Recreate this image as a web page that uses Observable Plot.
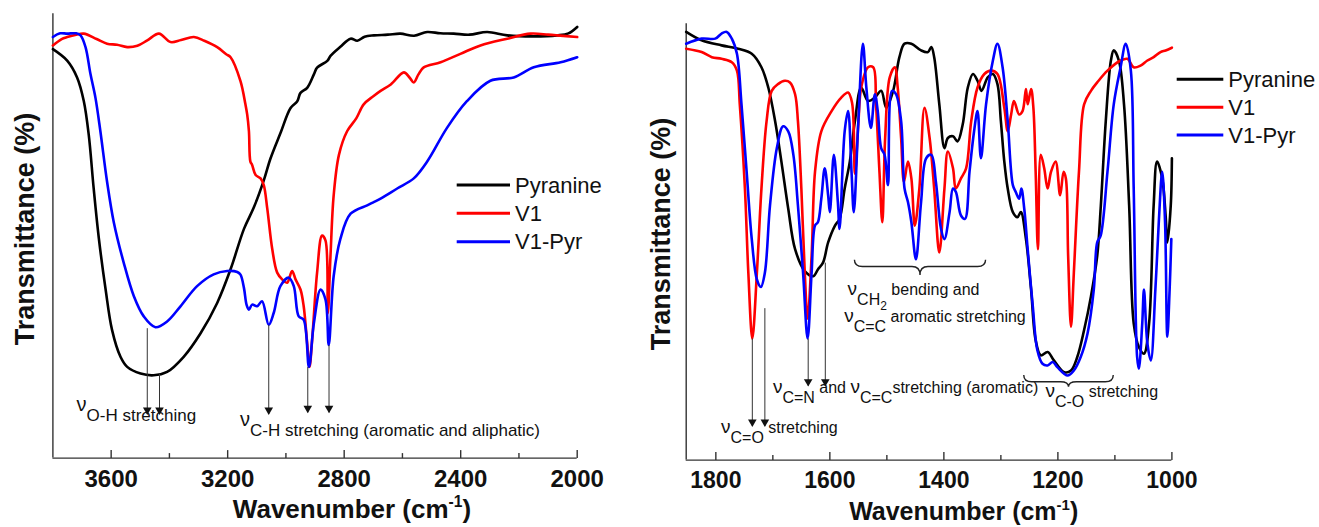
<!DOCTYPE html>
<html>
<head>
<meta charset="utf-8">
<script src="https://cdn.jsdelivr.net/npm/d3@7"></script>
<script src="https://cdn.jsdelivr.net/npm/@observablehq/plot@0.6"></script>
<style>
html,body{margin:0;padding:0;background:#fff;}
#wrap{position:relative;width:1319px;height:527px;overflow:hidden;}
#left,#right{position:absolute;top:0;}
#left{left:0;}
#right{left:640px;}
svg text{white-space:pre;}
</style>
</head>
<body>
<div id="wrap"><div id="left"></div><div id="right"></div></div>
<script>
// ---------- data ----------
const seriesNames = ["Pyranine", "V1", "V1-Pyr"];
const seriesColors = ["#000000", "#ff0000", "#0000ff"];
const xTitle = "Wavenumber (cm";
const xTitleSup = "-1";
const yTitle = "Transmittance (%)";

const leftTicks = [3600, 3200, 2800, 2400, 2000];
const leftMinorTicks = [3400, 3000, 2600, 2200];
const rightTicks = [1800, 1600, 1400, 1200, 1000];
const rightMinorTicks = [1700, 1500, 1300, 1100];

// [wavenumber, transmittance (a.u.)]
const leftPyranine = [[3800,1215],[3751,1181],[3717,1131],[3694,1061],[3677,961],[3660,801],[3642,651],[3619,501],[3597,381],[3568,301],[3545,271],[3499,251],[3454,246],[3408,256],[3351,301],[3293,371],[3236,461],[3190,561],[3144,681],[3110,745],[3076,825],[3053,890],[3019,965],[2984,1040],[2961,1060],[2950,1085],[2927,1100],[2904,1140],[2893,1160],[2858,1180],[2847,1195],[2813,1222],[2778,1246],[2755,1240],[2730,1252],[2698,1256],[2650,1258],[2607,1261],[2560,1255],[2515,1266],[2470,1262],[2424,1261],[2370,1258],[2309,1266],[2240,1256],[2150,1253],[2069,1256],[2030,1262],[2000,1281]];
const leftV1 = [[3800,1226],[3770,1245],[3751,1251],[3720,1258],[3694,1261],[3650,1245],[3614,1231],[3580,1228],[3545,1221],[3510,1225],[3476,1241],[3436,1261],[3396,1236],[3360,1242],[3316,1251],[3280,1240],[3236,1221],[3205,1200],[3190,1191],[3156,1120],[3139,1051],[3133,1021],[3127,971],[3122,881],[3116,871],[3104,841],[3087,831],[3076,811],[3064,741],[3047,621],[3030,551],[3013,531],[2996,521],[2979,556],[2967,531],[2950,501],[2939,451],[2927,341],[2919,271],[2910,351],[2893,551],[2876,661],[2864,646],[2856,430],[2847,601],[2836,781],[2818,901],[2790,971],[2758,1010],[2733,1051],[2700,1075],[2675,1091],[2640,1110],[2595,1146],[2575,1130],[2561,1116],[2545,1140],[2527,1161],[2469,1176],[2401,1201],[2332,1226],[2240,1246],[2160,1261],[2100,1258],[2069,1256],[2000,1251]];
const leftV1Pyr = [[3800,1251],[3775,1262],[3751,1261],[3720,1262],[3705,1256],[3688,1221],[3671,1141],[3654,1071],[3637,971],[3614,821],[3591,701],[3557,581],[3522,481],[3488,421],[3448,389],[3408,406],[3362,451],[3305,511],[3248,546],[3202,556],[3167,553],[3156,545],[3144,505],[3135,455],[3127,441],[3116,456],[3099,451],[3082,466],[3059,396],[3042,431],[3019,511],[2990,536],[2973,511],[2956,421],[2939,411],[2921,271],[2904,401],[2881,501],[2864,471],[2853,336],[2836,541],[2813,651],[2778,726],[2721,751],[2700,760],[2675,771],[2618,801],[2561,831],[2515,881],[2447,981],[2378,1061],[2298,1121],[2218,1131],[2149,1161],[2057,1176],[2000,1191]];

const rightPyranine = [[1852,1271],[1825,1246],[1790,1231],[1761,1221],[1737,1206],[1720,1166],[1708,1106],[1696,1006],[1685,886],[1673,746],[1661,626],[1644,561],[1629,546],[1621,566],[1612,586],[1603,646],[1591,696],[1583,716],[1574,806],[1565,886],[1556,1006],[1545,1106],[1533,1066],[1521,1076],[1510,1096],[1501,1046],[1489,1096],[1478,1196],[1469,1236],[1457,1236],[1440,1216],[1428,1211],[1422,1226],[1417,1196],[1408,1056],[1399,926],[1393,956],[1384,961],[1376,946],[1367,996],[1358,1106],[1349,1146],[1341,1126],[1334,1096],[1323,1136],[1314,1146],[1306,1116],[1300,1006],[1294,886],[1288,806],[1279,736],[1271,721],[1265,736],[1256,656],[1247,506],[1239,356],[1230,311],[1218,321],[1207,296],[1189,261],[1177,266],[1166,306],[1154,386],[1142,486],[1131,606],[1125,746],[1116,1006],[1107,1186],[1102,1216],[1093,1186],[1084,1056],[1075,756],[1067,406],[1058,336],[1049,316],[1040,406],[1032,756],[1026,886],[1017,836],[1011,726],[1008,646],[1002,756],[1000,896]];
const rightV1 = [[1852,1221],[1825,1211],[1807,1196],[1790,1191],[1772,1181],[1763,1156],[1758,1056],[1749,806],[1743,556],[1736,361],[1728,556],[1720,806],[1711,1006],[1702,1096],[1691,1116],[1679,1126],[1670,1121],[1661,1086],[1656,1006],[1650,806],[1644,556],[1639,420],[1632,606],[1626,856],[1615,976],[1597,1036],[1580,1076],[1568,1091],[1561,1060],[1556,850],[1550,1000],[1545,1106],[1533,1166],[1524,1166],[1519,1056],[1513,856],[1508,706],[1503,956],[1495,1136],[1486,1166],[1481,1106],[1475,956],[1470,826],[1463,886],[1457,836],[1451,696],[1443,806],[1434,1046],[1425,956],[1417,806],[1408,616],[1399,806],[1393,916],[1384,866],[1379,806],[1370,836],[1361,866],[1352,1006],[1341,1106],[1329,1146],[1317,1156],[1306,1146],[1294,1046],[1288,976],[1282,1026],[1277,1066],[1268,1026],[1262,1036],[1256,1101],[1253,1056],[1247,1101],[1243,1046],[1239,856],[1235,626],[1230,906],[1224,866],[1218,806],[1212,856],[1204,886],[1196,786],[1190,856],[1186,836],[1182,606],[1177,396],[1172,556],[1163,856],[1154,1056],[1142,1096],[1131,1121],[1113,1156],[1090,1186],[1078,1191],[1067,1166],[1055,1171],[1043,1186],[1032,1196],[1020,1211],[1011,1216],[1000,1224]];
const rightV1Pyr = [[1852,1236],[1825,1251],[1801,1251],[1790,1266],[1781,1271],[1772,1251],[1763,1206],[1755,1056],[1746,856],[1737,656],[1728,536],[1721,514],[1714,556],[1705,756],[1693,926],[1682,991],[1673,976],[1664,906],[1656,756],[1647,556],[1639,361],[1632,556],[1626,696],[1621,706],[1615,776],[1609,866],[1603,786],[1600,736],[1593,906],[1586,766],[1583,686],[1574,976],[1568,1036],[1562,856],[1558,736],[1550,1006],[1542,1236],[1536,1106],[1528,986],[1521,1086],[1516,1036],[1510,926],[1504,906],[1498,816],[1491,1096],[1484,1086],[1475,1006],[1469,806],[1463,766],[1457,706],[1449,596],[1440,766],[1431,896],[1422,906],[1414,826],[1405,686],[1399,656],[1390,736],[1384,806],[1379,796],[1370,726],[1363,716],[1355,856],[1347,976],[1341,1036],[1335,896],[1326,1056],[1314,1186],[1306,1236],[1297,1166],[1288,1006],[1279,816],[1274,796],[1268,776],[1264,806],[1259,746],[1253,626],[1244,456],[1236,326],[1227,286],[1218,281],[1209,291],[1201,276],[1183,251],[1172,266],[1160,306],[1148,376],[1137,506],[1131,646],[1125,666],[1113,856],[1102,1056],[1090,1166],[1081,1236],[1072,1156],[1067,806],[1061,306],[1058,271],[1052,406],[1049,506],[1043,346],[1037,296],[1029,506],[1023,706],[1017,856],[1012,706],[1008,366],[1004,506],[1001,656]];

// peak-assignment arrows (wavenumber, from / to transmittance)
const leftArrows = [{wn:3476,from:386,to:131},{wn:3434,from:251,to:131},{wn:3059,from:396,to:131},{wn:2925,from:271,to:136},{wn:2852,from:336,to:136}];
const rightArrows = [{wn:1736,from:361,to:101},{wn:1714,from:451,to:101},{wn:1638,from:361,to:221},{wn:1608,from:586,to:221}];

// band labels: parts are [text, level]
const leftNotes = [
  {wn:3717, h:108, parts:[["ν","nu"],["O-H stretching","low"]]},
  {wn:3156, h:63, parts:[["ν","nu"],["C-H stretching (aromatic and aliphatic)","low"]]}
];
const rightNotes = [
  {wn:1790, h:50, parts:[["ν","nu"],["C=O","low"],[" stretching","up"]]},
  {wn:1699, h:168, parts:[["ν","nu"],["C=N","low"],[" and ","up"],["ν","nu"],["C=C","low"],["stretching (aromatic)","up"]]},
  {wn:1568, h:459, parts:[["ν","nu"],["CH","low"],["2","sub"],[" bending and","up"]]},
  {wn:1574, h:380, parts:[["ν","nu"],["C=C","low"],[" aromatic stretching","up"]]},
  {wn:1221, h:157, parts:[["ν","nu"],["C-O","low"],[" stretching","up"]]}
];
const rightBraces = [{wn1:1556, wn2:1326, hEnd:593, hLine:573, hTip:548},{wn1:1259, wn2:1102, hEnd:251, hLine:231, hTip:216}];

// ---------- drawing ----------
const FONT = '"Liberation Sans", Arial, Helvetica, sans-serif';

function panel(o) {
  const plotH = 527 - o.mt - o.mb;
  const unitsPerPx = o.yMax / plotH;
  const tickLink = (ticks, len) => Plot.link(ticks, {x1:d => d, x2:d => d, y1:0, y2:len * unitsPerPx, stroke:"#333", strokeWidth:1.4});
  const marks = [
    Plot.ruleY([0], {stroke:"#333", strokeWidth:1.4}),
    Plot.ruleX([o.xDomain[0]], {y1:0, y2:o.yMax, stroke:"#333", strokeWidth:1.4}),
    tickLink(o.ticks, 8),
    tickLink(o.minor, 5),
    Plot.axisX(o.ticks, {tickSize:0, tickPadding:o.tickPad, tickFormat:d => String(d), label:null, fontSize:o.tickFont, fontWeight:"bold", fill:"#111"}),
    ...o.series.map((s, i) => Plot.line(s, {x:d => d[0], y:d => d[1], stroke:seriesColors[i], strokeWidth:2.6, curve:"catmull-rom"})),
    Plot.link(o.arrows, {x1:"wn", x2:"wn", y1:"from", y2:"to", stroke:"#333", strokeWidth:1}),
    Plot.dot(o.arrows, {x:"wn", y:"to", symbol:"triangle", rotate:180, r:3.2, fill:"#111", stroke:"none", dy:-4})
  ];
  const svg = Plot.plot({
    width:o.width, height:527,
    marginLeft:o.ml, marginRight:o.mr, marginTop:o.mt, marginBottom:o.mb,
    x:{domain:o.xDomain},
    y:{domain:[0, o.yMax], axis:null},
    style:{fontFamily:FONT, background:"white", overflow:"visible"},
    marks
  });
  const sx = svg.scale("x"), sy = svg.scale("y");
  const g = d3.select(svg).append("g").attr("font-family", FONT).attr("text-anchor", "start");

  // band labels
  for (const n of o.notes) {
    const t = g.append("text").attr("x", sx.apply(n.wn)).attr("y", sy.apply(n.h))
      .attr("text-anchor", "start").attr("font-size", o.noteFont).attr("fill", "#111");
    let cur = 0;
    for (const [str, lvl] of n.parts) {
      const target = (lvl === "nu" || lvl === "up") ? -10 : (lvl === "sub" ? 5 : 0);
      const ts = t.append("tspan").attr("dy", target - cur).text(str);
      if (lvl === "nu") ts.attr("font-size", o.noteFont + 3);
      if (lvl === "sub") ts.attr("font-size", o.noteFont - 4);
      cur = target;
    }
  }
  // braces
  for (const b of (o.braces || [])) {
    const x1 = sx.apply(b.wn1), x2 = sx.apply(b.wn2), xc = (x1 + x2) / 2;
    const ye = sy.apply(b.hEnd), yl = sy.apply(b.hLine), yt = sy.apply(b.hTip);
    const r = 8;
    const p = `M${x1},${ye} Q${x1},${yl} ${x1 + r},${yl} L${xc - r},${yl} Q${xc},${yl} ${xc},${yt} Q${xc},${yl} ${xc + r},${yl} L${x2 - r},${yl} Q${x2},${yl} ${x2},${ye}`;
    g.append("path").attr("d", p).attr("fill", "none").attr("stroke", "#222").attr("stroke-width", 1.4);
  }
  // legend
  o.legendY.forEach((y, i) => {
    g.append("line").attr("x1", o.legendX[0]).attr("x2", o.legendX[1]).attr("y1", y).attr("y2", y)
      .attr("stroke", seriesColors[i]).attr("stroke-width", 3);
    g.append("text").attr("x", o.legendX[2]).attr("y", y).attr("dy", "0.35em").attr("text-anchor", "start")
      .attr("font-size", o.legendFont).attr("fill", "#111").text(seriesNames[i]);
  });
  // axis titles
  const xt = g.append("text").attr("x", o.xTitlePos[0]).attr("y", o.xTitlePos[1]).attr("text-anchor", "middle")
    .attr("font-size", o.titleFont).attr("font-weight", "bold").attr("fill", "#111");
  xt.append("tspan").text(xTitle);
  xt.append("tspan").attr("dy", -o.titleFont * 0.42).attr("font-size", o.titleFont * 0.6).text(xTitleSup);
  xt.append("tspan").attr("dy", o.titleFont * 0.42).text(")");
  g.append("text").attr("transform", `translate(${o.yTitlePos[0]},${o.yTitlePos[1]}) rotate(-90)`)
    .attr("text-anchor", "middle").attr("font-size", 27).attr("font-weight", "bold").attr("fill", "#111").text(yTitle);
  return svg;
}

document.getElementById("left").append(panel({
  width:640, ml:52.4, mr:63.3, mt:13.3, mb:69.4,
  xDomain:[3800, 2000], yMax:1320,
  ticks:leftTicks, minor:leftMinorTicks, tickPad:12, tickFont:24,
  series:[leftPyranine, leftV1, leftV1Pyr],
  arrows:leftArrows, notes:leftNotes, noteFont:17,
  legendX:[456.7, 510, 515], legendY:[185, 213.3, 241.7], legendFont:22,
  xTitlePos:[352, 518], titleFont:26, yTitlePos:[34.4, 229]
}));
document.getElementById("right").append(panel({
  width:679, ml:45.7, mr:147.6, mt:23.3, mb:67.4,
  xDomain:[1852, 1000], yMax:1295,
  ticks:rightTicks, minor:rightMinorTicks, tickPad:12, tickFont:23,
  series:[rightPyranine, rightV1, rightV1Pyr],
  arrows:rightArrows, notes:rightNotes, noteFont:16, braces:rightBraces,
  legendX:[536.7, 583.3, 588.3], legendY:[79.3, 107.3, 135], legendFont:22,
  xTitlePos:[323.7, 520], titleFont:25, yTitlePos:[29.5, 234]
}));
</script>
</body>
</html>
